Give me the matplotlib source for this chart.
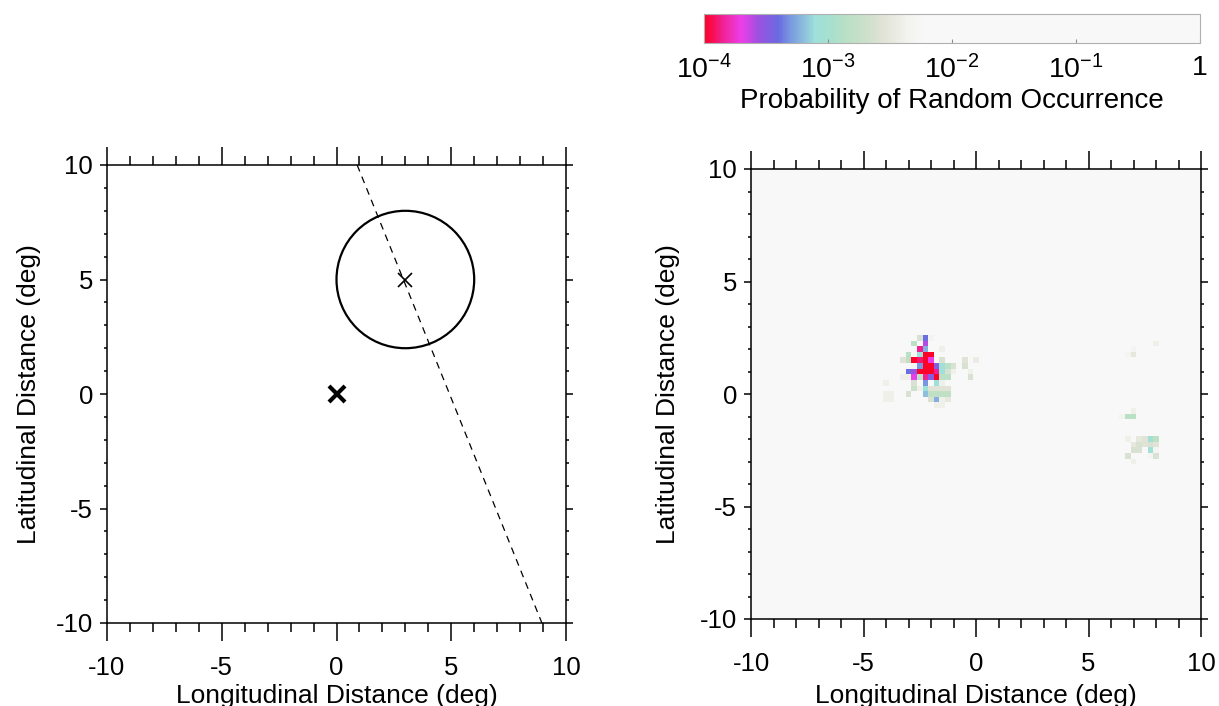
import numpy as np
import matplotlib
matplotlib.use("Agg")
import matplotlib.pyplot as plt
from matplotlib.colors import LinearSegmentedColormap, LogNorm
from matplotlib.patches import Circle
from matplotlib.ticker import MultipleLocator, FixedLocator
import matplotlib.cm as cm

plt.rcParams['font.family'] = ['Liberation Sans', 'DejaVu Sans']
plt.rcParams['mathtext.fontset'] = 'custom'
plt.rcParams['mathtext.rm'] = 'Liberation Sans'
plt.rcParams['mathtext.it'] = 'Liberation Sans:italic'
plt.rcParams['lines.scale_dashes'] = False
plt.rcParams['axes.unicode_minus'] = False

# ---------------- data ----------------
# left panel
circle_center = (3.0, 5.0)
circle_radius = 3.0
field_center = (3.0, 5.0)
source_pos = (0.0, 0.0)
line_x = [0.9, 8.95]
line_y = [10.0, -10.0]

# right panel: cells (0.25 deg grid) with log10 probability; all others = 1
cell_x = [
    -2.5, -2.25, -2.0,
    -2.75, -2.25,
    -2.5, -2.25, -1.5,
    -3.0, -2.5, -2.25, -2.0,
    -3.25, -3.0, -2.75, -2.5, -2.25, -2.0, -1.5, -0.5, 0.0,
    -2.75, -2.5, -2.25, -2.0, -1.75, -1.5, -1.25, -1.0, -0.5,
    -3.0, -2.75, -2.5, -2.25, -2.0, -1.75, -1.5, -1.25, -1.0, -0.25,
    -3.25, -3.0, -2.75, -2.5, -2.25, -2.0, -1.75, -1.5, -1.25, -0.25,
    -4.0, -2.75, -2.25, -1.75, -1.5,
    -2.75, -2.5, -2.25, -2.0, -1.75, -1.5, -1.25,
    -4.0, -3.75, -3.0, -2.25, -2.0, -1.75, -1.5, -1.25,
    -4.0, -3.75, -2.0, -1.75, -1.5, -1.25,
    -1.75, -1.5,
    8.0, 7.0, 7.0, 6.75,
    7.0, 6.5, 6.75, 7.0,
    6.75, 7.25, 7.5, 7.75, 8.0,
    7.0, 7.25, 7.5, 7.75, 8.0,
    7.0, 7.25, 7.75, 8.0,
    6.75, 7.75, 8.0,
    7.0,
]
cell_y = [
    2.5, 2.5, 2.5,
    2.25, 2.25,
    2.0, 2.0, 2.0,
    1.75, 1.75, 1.75, 1.75,
    1.5, 1.5, 1.5, 1.5, 1.5, 1.5, 1.5, 1.5, 1.5,
    1.25, 1.25, 1.25, 1.25, 1.25, 1.25, 1.25, 1.25, 1.25,
    1.0, 1.0, 1.0, 1.0, 1.0, 1.0, 1.0, 1.0, 1.0, 1.0,
    0.75, 0.75, 0.75, 0.75, 0.75, 0.75, 0.75, 0.75, 0.75, 0.75,
    0.5, 0.5, 0.5, 0.5, 0.5,
    0.25, 0.25, 0.25, 0.25, 0.25, 0.25, 0.25,
    0.0, 0.0, 0.0, 0.0, 0.0, 0.0, 0.0, 0.0,
    -0.25, -0.25, -0.25, -0.25, -0.25, -0.25,
    -0.5, -0.5,
    2.25, 2.0, 1.75, 1.75,
    -0.75, -1.0, -1.0, -1.0,
    -2.0, -2.0, -2.0, -2.0, -2.0,
    -2.25, -2.25, -2.25, -2.25, -2.25,
    -2.5, -2.5, -2.5, -2.5,
    -2.75, -2.75, -2.75,
    -3.0,
]
cell_logp = [
    -2.6, -3.4, -2.3,
    -2.85, -3.6,
    -3.85, -3.25, -2.4,
    -2.85, -3.1, -4.0, -4.0,
    -2.55, -2.8, -4.0, -3.9, -4.0, -3.7, -2.6, -2.55, -2.45,
    -2.3, -3.3, -4.0, -4.0, -3.5, -3.05, -2.85, -2.6, -2.6,
    -3.4, -3.55, -4.0, -4.0, -4.0, -3.85, -3.1, -2.6, -2.4, -2.4,
    -2.4, -2.4, -3.7, -2.85, -3.85, -3.5, -4.0, -2.85, -2.85, -2.6,
    -2.4, -2.6, -3.3, -3.1, -2.4,
    -2.7, -2.4, -3.1, -2.55, -2.55, -2.55, -2.55,
    -2.4, -2.4, -2.6, -3.2, -2.8, -2.8, -2.8, -2.8,
    -2.4, -2.4, -2.6, -3.25, -2.4, -2.5,
    -2.4, -2.4,
    -2.4, -2.3, -2.5, -2.3,
    -2.4, -2.35, -2.85, -2.85,
    -2.4, -2.5, -2.55, -3.05, -2.8,
    -2.5, -2.6, -2.55, -2.6, -2.55,
    -2.6, -2.6, -3.05, -2.3,
    -2.6, -2.3, -2.6,
    -2.4,
]

cbar_ticks = [1e-4, 1e-3, 1e-2, 1e-1, 1.0]
cbar_labels = [r'$\mathregular{10^{-4}}$', r'$\mathregular{10^{-3}}$',
               r'$\mathregular{10^{-2}}$', r'$\mathregular{10^{-1}}$', '1']

# colormap (positions in log10 space from -4 to 0, normalized)
cmap_stops = [
    (0.0, '#ff0028'), (0.035, '#f0208f'), (0.0725, '#ee3ee8'),
    (0.1075, '#a050e0'), (0.1475, '#6a6ae0'), (0.175, '#7a9ae0'),
    (0.2225, '#9ee0da'), (0.2575, '#a8e0cc'), (0.29, '#bce0c4'),
    (0.3325, '#d0e0cc'), (0.365, '#e2e4d8'), (0.4075, '#f2f2ee'),
    (0.4475, '#f8f8f8'), (1.0, '#f8f8f8'),
]
cmap = LinearSegmentedColormap.from_list('prob', cmap_stops)
norm = LogNorm(vmin=1e-4, vmax=1.0)

# ---------------- figure ----------------
fig = plt.figure(figsize=(12.19, 7.06), dpi=100)

TICK_FS = 18.5
LABEL_FS = 19


def style_axes(ax, xpad, ypad):
    ax.set_xlim(-10, 10)
    ax.set_ylim(-10, 10)
    ax.xaxis.set_major_locator(MultipleLocator(5))
    ax.xaxis.set_minor_locator(MultipleLocator(1))
    ax.yaxis.set_major_locator(MultipleLocator(5))
    ax.yaxis.set_minor_locator(MultipleLocator(1))
    ax.tick_params(axis='x', which='major', direction='out', length=13, width=1.1,
                   top=True, bottom=True, labelsize=TICK_FS, pad=11)
    ax.tick_params(axis='x', which='minor', direction='out', length=6.5, width=1.1,
                   top=True, bottom=True)
    ax.tick_params(axis='y', which='major', direction='out', length=5, width=1.1,
                   left=True, right=True, labelsize=TICK_FS, pad=5)
    ax.tick_params(axis='y', which='minor', direction='out', length=2.5, width=1.1,
                   left=True, right=True)
    for s in ax.spines.values():
        s.set_linewidth(1.1)
    ax.set_xlabel('Longitudinal Distance (deg)', fontsize=LABEL_FS, labelpad=xpad)
    ax.set_ylabel('Latitudinal Distance (deg)', fontsize=LABEL_FS, labelpad=ypad)


# left panel
axL = fig.add_axes([107 / 1219, 83 / 706, 459 / 1219, 458 / 706])
style_axes(axL, xpad=2.5, ypad=11)
axL.add_patch(Circle(circle_center, circle_radius, fill=False, lw=1.6, color='k'))
axL.plot(line_x, line_y, color='k', lw=0.9, linestyle=(0, (5, 4)))
axL.plot([field_center[0]], [field_center[1]], marker='x', ms=10.5, mew=1.2,
         color='k', linestyle='none')
axL.plot([source_pos[0]], [source_pos[1]], marker='x', ms=11.5, mew=3.0,
         color='k', linestyle='none')

# right panel
axR = fig.add_axes([751 / 1219, 87 / 706, 450 / 1219, 450 / 706])
step = 0.25
edges = np.arange(-10 - step / 2, 10 + step, step)
n = len(edges) - 1
grid = np.ones((n, n))
for x, y, lp in zip(cell_x, cell_y, cell_logp):
    col = int(round((x + 10) / step))
    row = int(round((y + 10) / step))
    grid[row, col] = 10.0 ** lp
axR.pcolormesh(edges, edges, grid, cmap=cmap, norm=norm, shading='flat')
style_axes(axR, xpad=5.5, ypad=14)

# colorbar
cax = fig.add_axes([704 / 1219, (706 - 42.5) / 706, 496 / 1219, 28.5 / 706])
sm = cm.ScalarMappable(norm=norm, cmap=cmap)
cb = fig.colorbar(sm, cax=cax, orientation='horizontal')
cb.outline.set_edgecolor('#b0b0b0')
cb.outline.set_linewidth(0.8)
cax.xaxis.set_major_locator(FixedLocator(cbar_ticks))
cax.xaxis.set_minor_locator(FixedLocator([]))
cax.set_xticklabels(cbar_labels)
cax.tick_params(axis='x', which='major', direction='in', length=3, width=0.8,
                color='#909090', labelsize=20.5, pad=9)
cb.set_label('Probability of Random Occurrence', fontsize=20, labelpad=3)

fig.savefig('out.png', dpi=100)
